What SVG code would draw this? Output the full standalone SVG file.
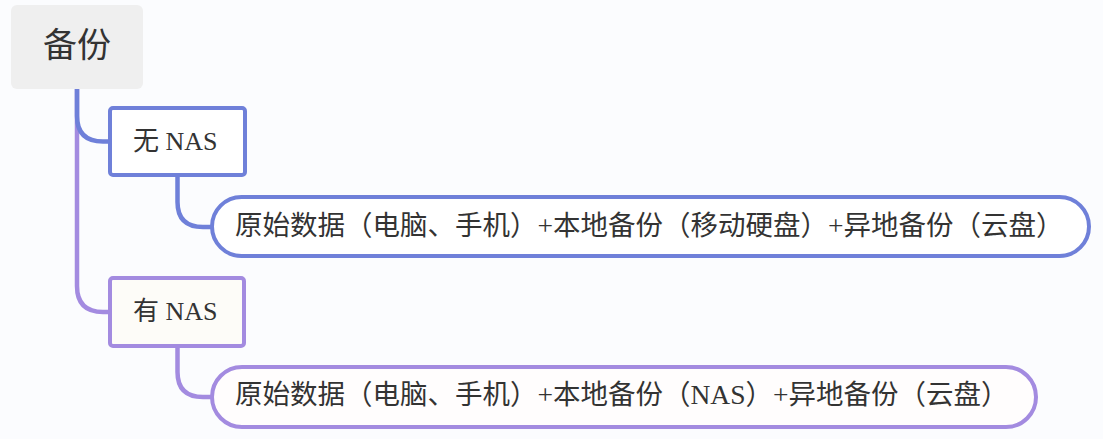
<svg xmlns="http://www.w3.org/2000/svg" width="1103" height="439" viewBox="0 0 1103 439">
<style>
.t{font-family:"Liberation Serif","Noto Sans CJK SC",serif;fill:#333333}
.c{fill:none;stroke-width:4.5;stroke-linecap:round}
.blue{stroke:#6f80d9}
.purple{stroke:#a38be0}
</style>
<rect x="0" y="0" width="1103" height="439" fill="#fbfcfe"/>
<g id="connectors">
<path class="c purple" d="M77,89 V286 Q77,312 103,312 H110"/>
<path class="c blue" d="M77,89 V116 Q77,141.5 103,141.5 H110"/>
<path class="c blue" d="M177.5,175 V202 Q177.5,227 203,227 H212"/>
<path class="c purple" d="M177.5,346 V372 Q177.5,397 203,397 H212"/>
</g>
<g id="root">
<rect x="11" y="5" width="132" height="84" rx="6" fill="#efefef"/>
<text class="t" x="77" y="57" font-size="34" text-anchor="middle">备份</text>
</g>
<g id="node-no-nas">
<rect x="110" y="108" width="135" height="67" rx="3" fill="#ffffff" stroke="#6f80d9" stroke-width="4"/>
<text class="t" x="133" y="149.5" font-size="26">无 NAS</text>
</g>
<g id="node-no-nas-detail">
<rect x="212" y="197" width="877" height="59" rx="29.5" fill="#ffffff" stroke="#6f80d9" stroke-width="4"/>
<text class="t" x="235" y="235" font-size="27.5">原始数据（电脑、手机）+本地备份（移动硬盘）+异地备份（云盘）</text>
</g>
<g id="node-nas">
<rect x="110" y="278" width="134" height="68" rx="3" fill="#fdfcf8" stroke="#a38be0" stroke-width="4"/>
<text class="t" x="133" y="319.5" font-size="26">有 NAS</text>
</g>
<g id="node-nas-detail">
<rect x="212" y="367" width="824" height="60" rx="30" fill="#fffdfd" stroke="#a38be0" stroke-width="4"/>
<text class="t" x="235" y="404" font-size="27.5">原始数据（电脑、手机）+本地备份（NAS）+异地备份（云盘）</text>
</g>
</svg>
